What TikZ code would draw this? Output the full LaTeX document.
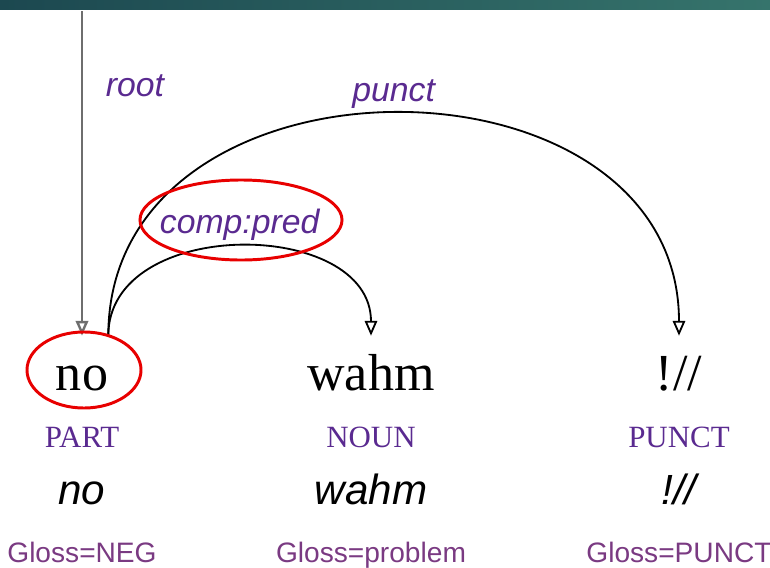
\documentclass[tikz,border=0pt]{standalone}
\usepackage{fontspec}
\setmainfont{Liberation Serif}
\setsansfont{Liberation Sans}
\usetikzlibrary{positioning, calc, arrows.meta, shapes.geometric}

\definecolor{deplabel}{HTML}{5A2A90}
\definecolor{glosscol}{HTML}{7A3A82}
\definecolor{rootgray}{HTML}{6E6E6E}
\definecolor{markred}{HTML}{E80000}
\definecolor{bandleft}{HTML}{1C4850}
\definecolor{bandright}{HTML}{36746C}

\begin{document}
\begin{tikzpicture}[x=0.025cm, y=-0.025cm, node distance=1.425cm, on grid,
    word/.style={font=\fontsize{37}{40}\selectfont, text height=0.5cm, text depth=0.1cm, inner xsep=0pt, inner ysep=0.85cm},
    upos/.style={font=\fontsize{22}{24}\selectfont, text=deplabel, text height=0.5cm, text depth=0.1cm, inner sep=0pt},
    form/.style={font=\sffamily\itshape\fontsize{30}{32}\selectfont, text height=0.5cm, text depth=0.1cm, inner sep=0pt},
    gloss/.style={font=\sffamily\fontsize{20}{22}\selectfont, text=glosscol, text height=0.5cm, text depth=0.1cm, inner sep=0pt},
    deplab/.style={font=\sffamily\itshape\fontsize{24}{26}\selectfont, text=deplabel},
    dep/.style={draw=black, line width=1.3pt, -{Triangle[open, length=0.37cm, width=0.31cm]}},
    rootdep/.style={draw=rootgray, line width=1.7pt, -{Triangle[open, length=0.37cm, width=0.31cm]}},
    marker/.style={draw=markred, line width=2.1pt, ellipse, inner sep=0pt}]
   \useasboundingbox (0,0) rectangle (770,567);
   \shade[left color=bandleft, right color=bandright] (0,0) rectangle (770,9);

   % words
   \node[word, anchor=base] (no)   at (82,390)  {no};
   \node[word, anchor=base] (wahm) at (371,390) {wahm};
   \node[word, anchor=base] (excl) at (679,390) {!//};

   \node[upos] (no-pos)   [below=of no]   {PART};
   \node[upos] (wahm-pos) [below=of wahm] {NOUN};
   \node[upos] (excl-pos) [below=of excl] {PUNCT};

   \node[form] (no-form)   [below=of no-pos]   {no};
   \node[form] (wahm-form) [below=of wahm-pos] {wahm};
   \node[form] (excl-form) [below=of excl-pos] {!//};

   \node[gloss] (no-gloss)   [below=1.45cm of no-form]   {Gloss=NEG};
   \node[gloss] (wahm-gloss) [below=1.45cm of wahm-form] {Gloss=problem};
   \node[gloss] (excl-gloss) [below=1.45cm of excl-form] {Gloss=PUNCT};

   % arcs
   \coordinate (root-top) at (82,11);
   \path
    (root-top) edge [rootdep] node [deplab, pos=0.23, anchor=west, xshift=0.45cm] {root} (no.north);
   \path
    (no.north east) edge [dep, controls={+(0,-120) and +(0,-118)}] node [deplab, above] {comp:pred} (wahm.north)
    (no.north east) edge [dep, controls={+(0,-297) and +(0,-295)}] node [deplab, above] {punct} (excl.north);

   % red marks
   \node[marker, minimum width=2.85cm, minimum height=1.9cm] (no-ring) at (84,370) {};
   \node[marker, minimum width=5.05cm, minimum height=2cm] (pred-ring) at (241,220) {};
\end{tikzpicture}
\end{document}
